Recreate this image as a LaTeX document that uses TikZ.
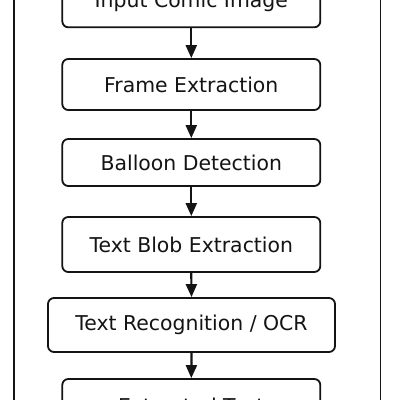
\documentclass[tikz,border=0pt]{standalone}
\usepackage{fontspec}
\setmainfont{DejaVu Sans}
\usetikzlibrary{arrows.meta}
\definecolor{ink}{HTML}{141414}
\tikzset{
  stagebox/.style={draw=ink, line width=1.8pt, rounded corners=6pt, fill=white,
    text=ink, font=\fontsize{20.4}{24}\selectfont, inner sep=0pt, anchor=center},
  flowarrow/.style={draw=ink, line width=2.2pt, -{Triangle[width=11pt,length=13pt]}},
}
\begin{document}
\begin{tikzpicture}[x=1pt,y=-1pt]
\path[use as bounding box, clip] (0,0) rectangle (400,400);
\fill[white] (0,0) rectangle (400,400);
\draw[ink, line width=1.6pt] (14,-20) rectangle (380.5,430);
\node[stagebox, minimum width=258pt, minimum height=51pt] (b1) at (191.3,1.8) {Input Comic Image};
\node[stagebox, minimum width=258pt, minimum height=51pt] (b2) at (191.3,84.5) {Frame Extraction};
\node[stagebox, minimum width=258pt, minimum height=47pt] (b3) at (191.3,162.5) {Balloon Detection};
\node[stagebox, minimum width=258pt, minimum height=55pt] (b4) at (191.3,244.5) {Text Blob Extraction};
\node[stagebox, minimum width=287pt, minimum height=54pt] (b5) at (191.5,325) {Text Recognition / OCR};
\node[stagebox, minimum width=258pt, minimum height=53pt] (b6) at (191.3,405.5) {Extracted Text};
\draw[flowarrow] (b1.south) -- (b2.north);
\draw[flowarrow] (b2.south) -- (b3.north);
\draw[flowarrow] (b3.south) -- (b4.north);
\draw[flowarrow] (b4.south) -- (b5.north);
\draw[flowarrow] (b5.south) -- (b6.north);
\end{tikzpicture}
\end{document}
